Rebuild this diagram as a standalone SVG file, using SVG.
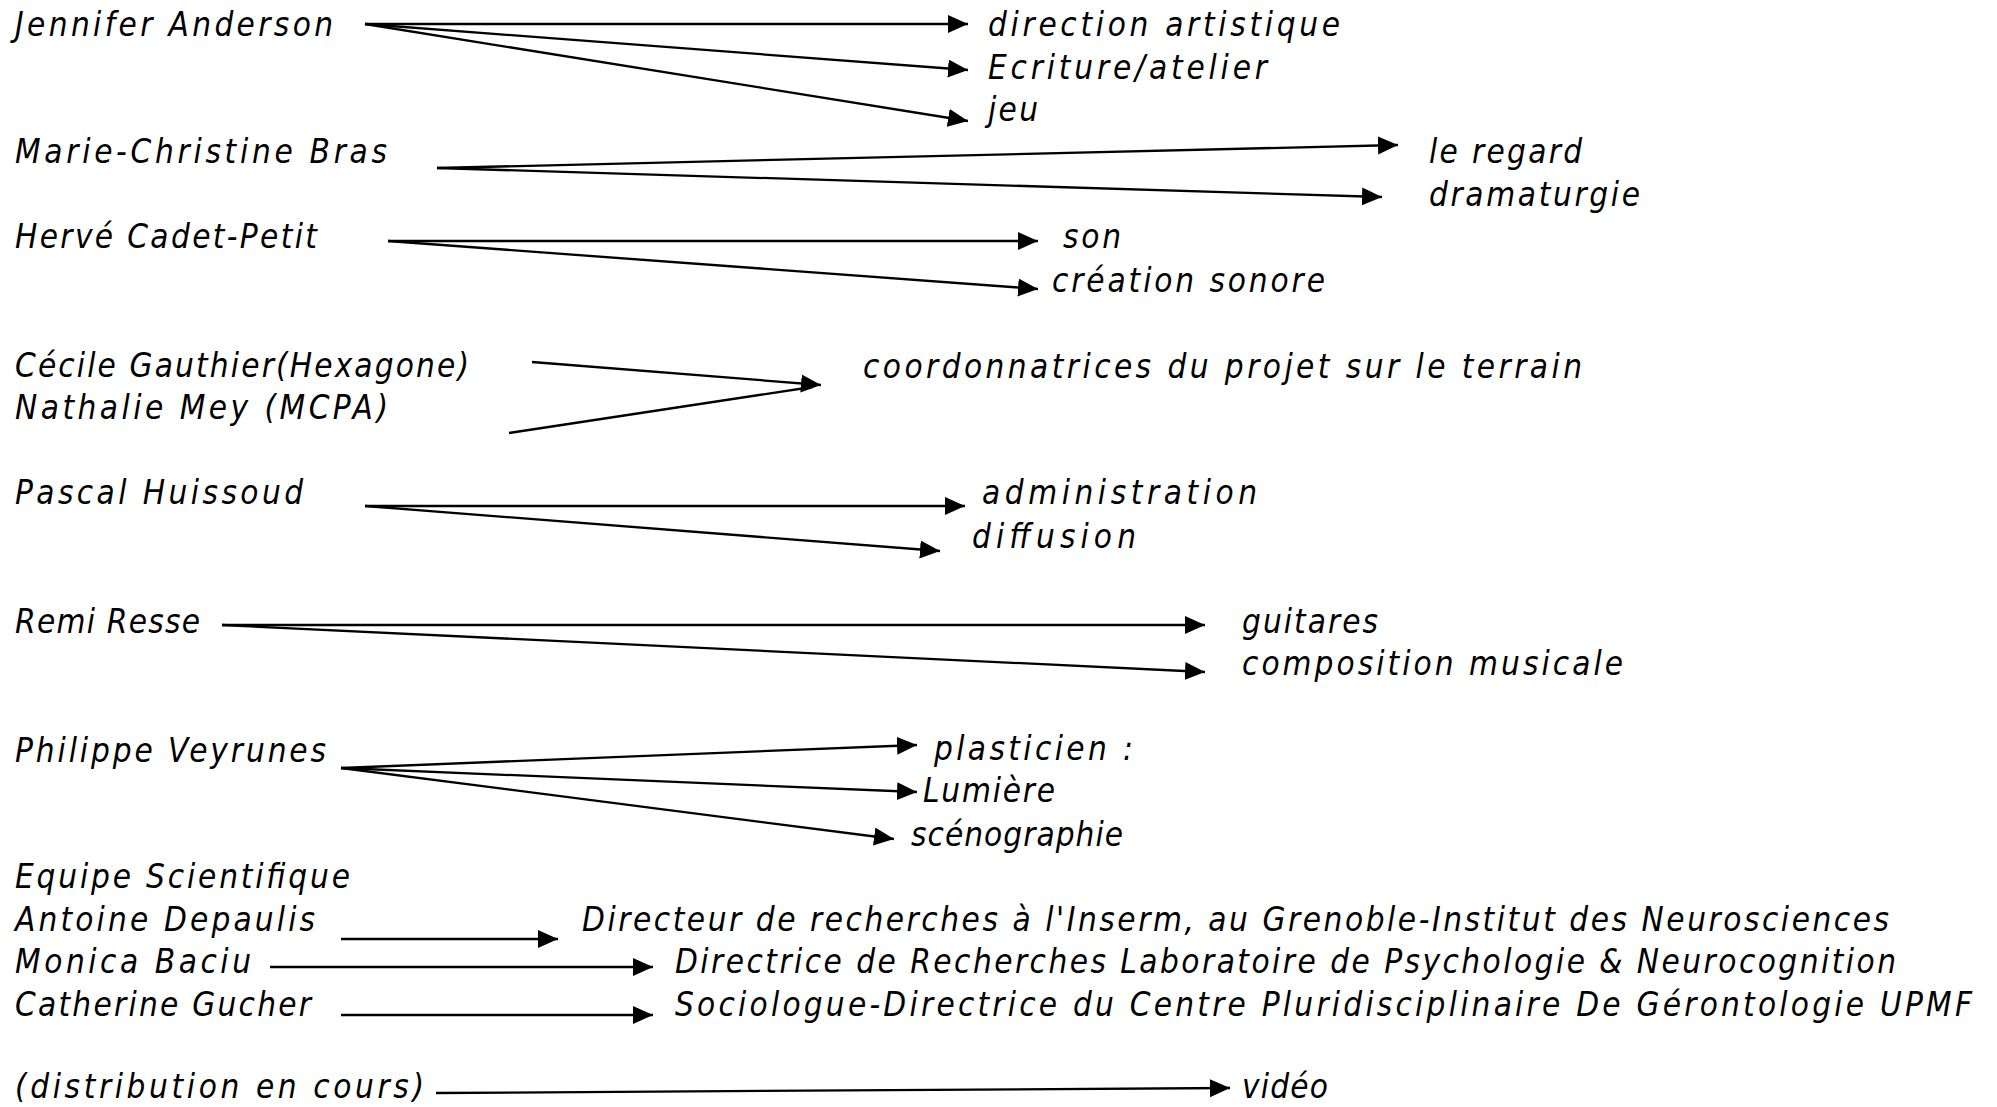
<svg xmlns="http://www.w3.org/2000/svg" width="1997" height="1107" viewBox="0 0 1997 1107">
<defs>
<style>
.t{font-family:"Liberation Sans Narrow","DejaVu Sans Condensed","Liberation Sans",sans-serif;font-style:italic;font-size:33px;fill:#000;}
.c line{stroke:#000;stroke-width:2.3;fill:none;}
.a{marker-end:url(#ah);}
</style>
<marker id="ah" markerUnits="userSpaceOnUse" markerWidth="22" markerHeight="20" refX="20" refY="9" orient="auto" viewBox="0 0 22 20">
<path d="M0,0 L20,9 L0,18 Z" fill="#000"/>
</marker>
</defs>
<rect width="1997" height="1107" fill="#fff"/>

<g id="connectors" class="c">
<line class="a" x1="365" y1="24" x2="968" y2="24"/>
<line class="a" x1="365" y1="24" x2="968" y2="70"/>
<line class="a" x1="365" y1="24" x2="968" y2="121"/>
<line class="a" x1="437" y1="168" x2="1398" y2="145"/>
<line class="a" x1="437" y1="168" x2="1382" y2="197"/>
<line class="a" x1="388" y1="241" x2="1038" y2="241"/>
<line class="a" x1="388" y1="241" x2="1038" y2="289"/>
<line class="a" x1="532" y1="362" x2="821" y2="385"/>
<line x1="509" y1="433" x2="812" y2="387"/>
<line class="a" x1="365" y1="506" x2="965" y2="506"/>
<line class="a" x1="365" y1="506" x2="940" y2="551"/>
<line class="a" x1="222" y1="625" x2="1205" y2="625"/>
<line class="a" x1="222" y1="625" x2="1205" y2="672"/>
<line class="a" x1="341" y1="768" x2="917" y2="745"/>
<line class="a" x1="341" y1="768" x2="917" y2="792"/>
<line class="a" x1="341" y1="768" x2="894" y2="839"/>
<line class="a" x1="341" y1="939" x2="558" y2="939"/>
<line class="a" x1="270" y1="967" x2="653" y2="967"/>
<line class="a" x1="341" y1="1015" x2="653" y2="1015"/>
<line class="a" x1="436" y1="1093" x2="1230" y2="1088"/>
</g>

<g id="n-jennifer"><text class="t" x="15" y="36" textLength="318" lengthAdjust="spacing">Jennifer Anderson</text></g>
<g id="n-direction"><text class="t" x="988" y="36" textLength="352" lengthAdjust="spacing">direction artistique</text></g>
<g id="n-ecriture"><text class="t" x="988" y="79" textLength="279" lengthAdjust="spacing">Ecriture/atelier</text></g>
<g id="n-jeu"><text class="t" x="988" y="121" textLength="50" lengthAdjust="spacing">jeu</text></g>

<g id="n-marie"><text class="t" x="15" y="163" textLength="372" lengthAdjust="spacing">Marie-Christine Bras</text></g>
<g id="n-regard"><text class="t" x="1429" y="163" textLength="153" lengthAdjust="spacing">le regard</text></g>
<g id="n-dramaturgie"><text class="t" x="1429" y="206" textLength="211" lengthAdjust="spacing">dramaturgie</text></g>

<g id="n-herve"><text class="t" x="15" y="248" textLength="302" lengthAdjust="spacing">Hervé Cadet-Petit</text></g>
<g id="n-son"><text class="t" x="1063" y="248" textLength="58" lengthAdjust="spacing">son</text></g>
<g id="n-creation"><text class="t" x="1052" y="292" textLength="273" lengthAdjust="spacing">création sonore</text></g>

<g id="n-cecile"><text class="t" x="15" y="377" textLength="454" lengthAdjust="spacing">Cécile Gauthier(Hexagone)</text></g>
<g id="n-nathalie"><text class="t" x="15" y="419" textLength="373" lengthAdjust="spacing">Nathalie Mey (MCPA)</text></g>
<g id="n-coord"><text class="t" x="863" y="378" textLength="719" lengthAdjust="spacing">coordonnatrices du projet sur le terrain</text></g>

<g id="n-pascal"><text class="t" x="15" y="504" textLength="288" lengthAdjust="spacing">Pascal Huissoud</text></g>
<g id="n-admin"><text class="t" x="982" y="504" textLength="275" lengthAdjust="spacing">administration</text></g>
<g id="n-diffusion"><text class="t" x="972" y="548" textLength="164" lengthAdjust="spacing">diffusion</text></g>

<g id="n-remi"><text class="t" x="15" y="633" textLength="185" lengthAdjust="spacing">Remi Resse</text></g>
<g id="n-guitares"><text class="t" x="1242" y="633" textLength="136" lengthAdjust="spacing">guitares</text></g>
<g id="n-composition"><text class="t" x="1242" y="675" textLength="381" lengthAdjust="spacing">composition musicale</text></g>

<g id="n-philippe"><text class="t" x="15" y="762" textLength="311" lengthAdjust="spacing">Philippe Veyrunes</text></g>
<g id="n-plasticien"><text class="t" x="934" y="760" textLength="199" lengthAdjust="spacing">plasticien :</text></g>
<g id="n-lumiere"><text class="t" x="923" y="802" textLength="132" lengthAdjust="spacing">Lumière</text></g>
<g id="n-scenographie"><text class="t" x="911" y="846" textLength="212" lengthAdjust="spacing">scénographie</text></g>

<g id="n-equipe"><text class="t" x="15" y="888" textLength="335" lengthAdjust="spacing">Equipe Scientifique</text></g>
<g id="n-antoine"><text class="t" x="15" y="931" textLength="300" lengthAdjust="spacing">Antoine Depaulis</text></g>
<g id="n-antoine-role"><text class="t" x="582" y="931" textLength="1307" lengthAdjust="spacing">Directeur de recherches à l'Inserm, au Grenoble-Institut des Neurosciences</text></g>
<g id="n-monica"><text class="t" x="15" y="973" textLength="236" lengthAdjust="spacing">Monica Baciu</text></g>
<g id="n-monica-role"><text class="t" x="675" y="973" textLength="1221" lengthAdjust="spacing">Directrice de Recherches Laboratoire de Psychologie &amp; Neurocognition</text></g>
<g id="n-catherine"><text class="t" x="15" y="1016" textLength="296" lengthAdjust="spacing">Catherine Gucher</text></g>
<g id="n-catherine-role"><text class="t" x="675" y="1016" textLength="1297" lengthAdjust="spacing">Sociologue-Directrice du Centre Pluridisciplinaire De Gérontologie UPMF</text></g>

<g id="n-distribution"><text class="t" x="15" y="1098" textLength="409" lengthAdjust="spacing">(distribution en cours)</text></g>
<g id="n-video"><text class="t" x="1242" y="1098" textLength="86" lengthAdjust="spacing">vidéo</text></g>
</svg>
